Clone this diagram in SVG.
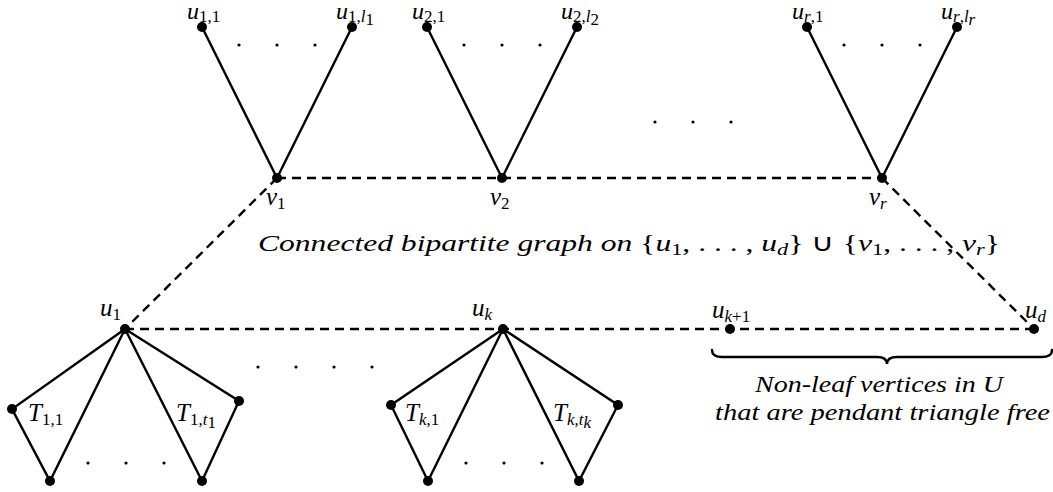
<svg xmlns="http://www.w3.org/2000/svg" width="1053" height="492" viewBox="0 0 1053 492">
<style>
.e{stroke:#000;stroke-width:2.4;fill:none;stroke-linecap:round}
.d{stroke:#000;stroke-width:2.4;fill:none;stroke-dasharray:9,6}
.n{fill:#000}
.t{font-style:italic;font-size:25px;fill:#000}
.tt{font-style:italic;font-size:24px;fill:#000}
.s{font-size:17px;font-style:normal}
.si{font-size:17px;font-style:italic}
.c{font-style:italic;font-size:24px;fill:#000}
</style>
<rect width="1053" height="492" fill="#fff"/>
<g font-family="Liberation Serif, serif">
<g id="connectors">
<line class="d" x1="277" y1="178" x2="882" y2="178"/>
<line class="d" x1="277" y1="178" x2="125" y2="329"/>
<line class="d" x1="882" y1="178" x2="1034" y2="329"/>
<line class="d" x1="125" y1="329" x2="1034" y2="329"/>
<line class="e" x1="202" y1="27" x2="277" y2="178"/>
<line class="e" x1="352" y1="27" x2="277" y2="178"/>
<line class="e" x1="427" y1="27" x2="502" y2="178"/>
<line class="e" x1="577" y1="27" x2="502" y2="178"/>
<line class="e" x1="807" y1="27" x2="882" y2="178"/>
<line class="e" x1="957" y1="27" x2="882" y2="178"/>
<polyline class="e" points="125,329 12,409 50,481 125,329"/>
<polyline class="e" points="125,329 239,401 202,481 125,329"/>
<polyline class="e" points="503,329 391,405 428,481 503,329"/>
<polyline class="e" points="503,329 618,405 579,481 503,329"/>
<path class="e" stroke-width="1.2" d="M712,350 Q712,357 722,357 L877,357 Q887,357 887,364 Q887,357 897,357 L1042,357 Q1052,357 1052,350"/>
</g>
<g id="dots" class="n">
<circle cx="239" cy="45" r="1.6"/><circle cx="277" cy="45" r="1.6"/><circle cx="315" cy="45" r="1.6"/>
<circle cx="464" cy="45" r="1.6"/><circle cx="502" cy="45" r="1.6"/><circle cx="540" cy="45" r="1.6"/>
<circle cx="844" cy="45" r="1.6"/><circle cx="882" cy="45" r="1.6"/><circle cx="920" cy="45" r="1.6"/>
<circle cx="655" cy="122" r="1.6"/><circle cx="693" cy="122" r="1.6"/><circle cx="731" cy="122" r="1.6"/>
<circle cx="258" cy="367" r="1.6"/><circle cx="296" cy="367" r="1.6"/><circle cx="334" cy="367" r="1.6"/><circle cx="372" cy="367" r="1.6"/>
<circle cx="88" cy="463" r="1.6"/><circle cx="126" cy="463" r="1.6"/><circle cx="164" cy="463" r="1.6"/>
<circle cx="466" cy="463" r="1.6"/><circle cx="504" cy="463" r="1.6"/><circle cx="542" cy="463" r="1.6"/>
</g>
<g id="u11"><circle class="n" cx="202" cy="27" r="5"/><text class="tt" x="187" y="19">u<tspan class="s" dy="3">1,1</tspan></text></g>
<g id="u1l1"><circle class="n" cx="352" cy="27" r="5"/><text class="tt" x="336" y="19">u<tspan class="s" dy="3">1,</tspan><tspan class="si">l</tspan><tspan class="s" font-size="12" dy="3">1</tspan></text></g>
<g id="u21"><circle class="n" cx="427" cy="27" r="5"/><text class="tt" x="412" y="19">u<tspan class="s" dy="3">2,1</tspan></text></g>
<g id="u2l2"><circle class="n" cx="577" cy="27" r="5"/><text class="tt" x="561" y="19">u<tspan class="s" dy="3">2,</tspan><tspan class="si">l</tspan><tspan class="s" font-size="12" dy="3">2</tspan></text></g>
<g id="ur1"><circle class="n" cx="807" cy="27" r="5"/><text class="tt" x="792" y="19">u<tspan class="si" dy="3">r</tspan><tspan class="s">,1</tspan></text></g>
<g id="urlr"><circle class="n" cx="957" cy="27" r="5"/><text class="tt" x="941" y="19">u<tspan class="si" dy="3">r</tspan><tspan class="s">,</tspan><tspan class="si">l</tspan><tspan class="si" font-size="12" dy="3">r</tspan></text></g>
<g id="v1"><circle class="n" cx="277" cy="178" r="5"/><text class="t" x="266" y="205">v<tspan class="s" dy="4">1</tspan></text></g>
<g id="v2"><circle class="n" cx="502" cy="178" r="5"/><text class="t" x="490" y="205">v<tspan class="s" dy="4">2</tspan></text></g>
<g id="vr"><circle class="n" cx="882" cy="178" r="5"/><text class="t" x="869" y="205">v<tspan class="si" dy="4">r</tspan></text></g>
<g id="u1"><circle class="n" cx="125" cy="329" r="5"/><text class="t" x="100" y="316">u<tspan class="s" dy="4">1</tspan></text></g>
<g id="uk"><circle class="n" cx="503" cy="329" r="5"/><text class="t" x="472" y="316">u<tspan class="si" dy="4">k</tspan></text></g>
<g id="uk1"><circle class="n" cx="730" cy="329" r="5"/><text class="t" x="712" y="318">u<tspan class="si" dy="4">k</tspan><tspan class="s">+1</tspan></text></g>
<g id="ud"><circle class="n" cx="1034" cy="329" r="5"/><text class="t" x="1025" y="318">u<tspan class="si" dy="4">d</tspan></text></g>
<g id="t11"><circle class="n" cx="12" cy="409" r="5"/><circle class="n" cx="50" cy="481" r="5"/><text class="t" x="28" y="421">T<tspan class="s" dy="4">1,1</tspan></text></g>
<g id="t1t1"><circle class="n" cx="239" cy="401" r="5"/><circle class="n" cx="202" cy="481" r="5"/><text class="t" x="176" y="421">T<tspan class="s" dy="4">1,</tspan><tspan class="si">t</tspan><tspan class="s" font-size="12" dy="3">1</tspan></text></g>
<g id="tk1"><circle class="n" cx="391" cy="405" r="5"/><circle class="n" cx="428" cy="481" r="5"/><text class="t" x="405" y="421">T<tspan class="si" dy="4">k</tspan><tspan class="s">,1</tspan></text></g>
<g id="tktk"><circle class="n" cx="618" cy="405" r="5"/><circle class="n" cx="579" cy="481" r="5"/><text class="t" x="553" y="421">T<tspan class="si" dy="4">k</tspan><tspan class="s">,</tspan><tspan class="si">t</tspan><tspan class="si" font-size="12" dy="3">k</tspan></text></g>
<g id="labels">
<text class="c" x="258" y="251" textLength="742" lengthAdjust="spacingAndGlyphs">Connected bipartite graph on <tspan font-style="normal">{</tspan>u<tspan class="s" dy="4">1</tspan><tspan dy="-4" font-style="normal">, . . . , </tspan>u<tspan class="si" dy="4">d</tspan><tspan dy="-4" font-style="normal">} ∪ {</tspan>v<tspan class="s" dy="4">1</tspan><tspan dy="-4" font-style="normal">, . . . , </tspan>v<tspan class="si" dy="4">r</tspan><tspan dy="-4" font-style="normal">}</tspan></text>
<text class="c" x="755" y="392" textLength="248" lengthAdjust="spacingAndGlyphs">Non-leaf vertices in U</text>
<text class="c" x="715" y="420" textLength="335" lengthAdjust="spacingAndGlyphs">that are pendant triangle free</text>
</g>
</g>
</svg>
